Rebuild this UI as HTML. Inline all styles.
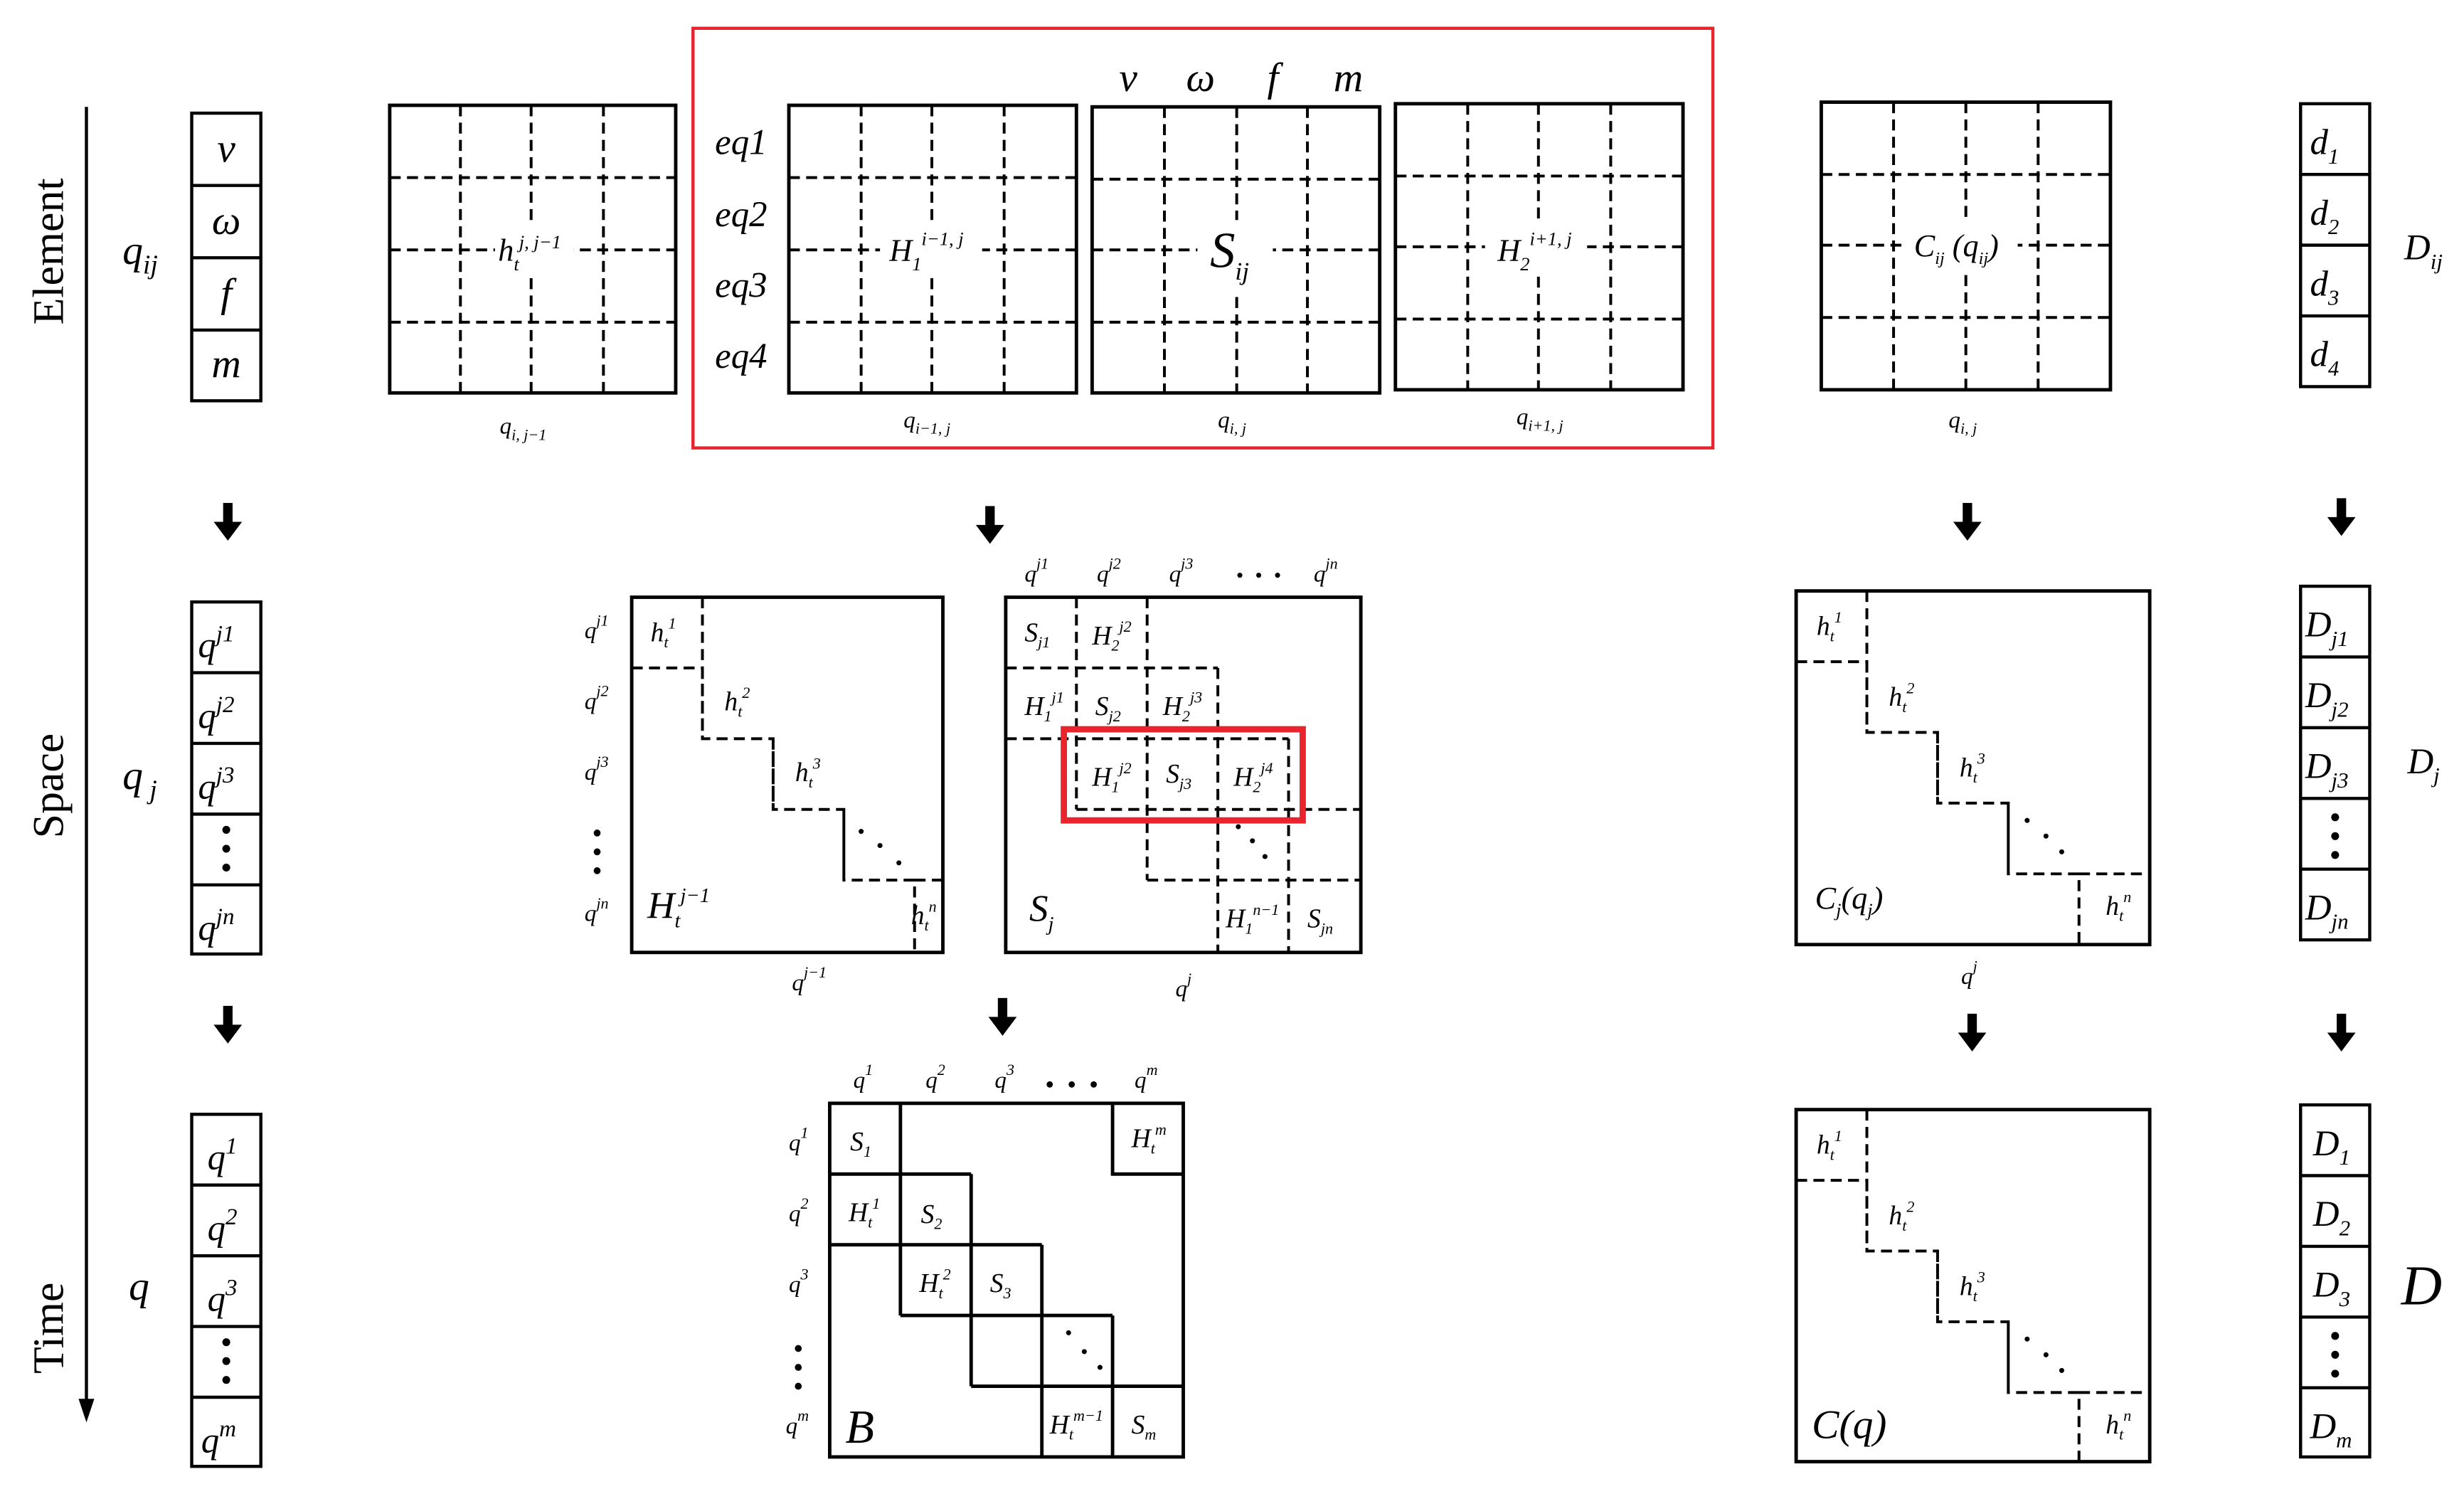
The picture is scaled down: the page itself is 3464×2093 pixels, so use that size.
<!DOCTYPE html>
<html><head><meta charset="utf-8"><style>
html,body{margin:0;padding:0;background:#fff;}
svg{display:block;}
text{font-family:"Liberation Serif",serif;font-style:italic;fill:#000;}
.up{font-style:normal;}
</style></head><body>
<svg width="3464" height="2093" viewBox="0 0 1568 947.4" preserveAspectRatio="none" xmlns="http://www.w3.org/2000/svg">
<defs>
<g id="arr"><rect x="-3" y="0" width="6" height="14" fill="#000"/><polygon points="-9,12 9,12 0,24" fill="#000"/></g>
</defs>
<g fill="none" stroke="#000">
<line x1="55" y1="68" x2="55" y2="895" stroke-width="2"/>
</g>
<polygon points="50,890 60,890 55,905" fill="#000"/>
<text class="up" transform="translate(40,160) rotate(-90)" font-size="28" text-anchor="middle">Element</text>
<text class="up" transform="translate(40,500) rotate(-90)" font-size="28" text-anchor="middle">Space</text>
<text class="up" transform="translate(40,845) rotate(-90)" font-size="28" text-anchor="middle">Time</text>

<use href="#arr" x="145" y="320"/><use href="#arr" x="145" y="640"/>
<use href="#arr" x="630" y="322"/><use href="#arr" x="1252" y="320"/><use href="#arr" x="1490" y="317"/>
<use href="#arr" x="638" y="635"/><use href="#arr" x="1255" y="645"/><use href="#arr" x="1490" y="645"/>

<g fill="none" stroke="#000" stroke-width="2">
<rect x="122" y="72" width="44" height="183"/>
<line x1="122" y1="118" x2="166" y2="118"/><line x1="122" y1="164" x2="166" y2="164"/><line x1="122" y1="210" x2="166" y2="210"/>
<rect x="122" y="383" width="44" height="224"/>
<line x1="122" y1="428" x2="166" y2="428"/><line x1="122" y1="473" x2="166" y2="473"/><line x1="122" y1="518" x2="166" y2="518"/><line x1="122" y1="563" x2="166" y2="563"/>
<rect x="122" y="709" width="44" height="224"/>
<line x1="122" y1="754" x2="166" y2="754"/><line x1="122" y1="799" x2="166" y2="799"/><line x1="122" y1="844" x2="166" y2="844"/><line x1="122" y1="889" x2="166" y2="889"/>
<rect x="1464" y="66" width="44" height="180"/>
<line x1="1464" y1="111" x2="1508" y2="111"/><line x1="1464" y1="156" x2="1508" y2="156"/><line x1="1464" y1="201" x2="1508" y2="201"/>
<rect x="1464" y="373" width="44" height="225"/>
<line x1="1464" y1="418" x2="1508" y2="418"/><line x1="1464" y1="463" x2="1508" y2="463"/><line x1="1464" y1="508" x2="1508" y2="508"/><line x1="1464" y1="553" x2="1508" y2="553"/>
<rect x="1464" y="703" width="44" height="224"/>
<line x1="1464" y1="748" x2="1508" y2="748"/><line x1="1464" y1="793" x2="1508" y2="793"/><line x1="1464" y1="838" x2="1508" y2="838"/><line x1="1464" y1="883" x2="1508" y2="883"/>
</g>

<g fill="none" stroke="#000" stroke-width="1.8" stroke-dasharray="7,4">
<path d="M293 67V250M338 67V250M384 67V250M248 113H430M248 159H430M248 205H430"/>
<path d="M548 67V250M593 67V250M639 67V250M502 113H685M502 159H685M502 205H685"/>
<path d="M741 68V250M787 68V250M832 68V250M695 114H878M695 159H878M695 205H878"/>
<path d="M934 66V248M979 66V248M1025 66V248M888 112H1071M888 157H1071M888 203H1071"/>
<path d="M1205 65V248M1251 65V248M1297 65V248M1159 111H1343M1159 156H1343M1159 202H1343"/>
</g>
<g fill="#fff" stroke="none">
<rect x="315" y="142" width="50" height="32"/><rect x="560" y="142" width="65" height="34"/><rect x="762" y="140" width="48" height="46"/>
<rect x="945" y="140" width="65" height="34"/><rect x="1212" y="140" width="72" height="34"/>
</g>
<g fill="none" stroke="#000" stroke-width="2.2">
<rect x="248" y="67" width="182" height="183"/>
<rect x="502" y="67" width="183" height="183"/>
<rect x="695" y="68" width="183" height="182"/>
<rect x="888" y="66" width="183" height="182"/>
<rect x="1159" y="65" width="184" height="183"/>
</g>
<rect x="441" y="18" width="649" height="267" fill="none" stroke="#e8242c" stroke-width="2"/>

<g fill="none" stroke="#000" stroke-width="1.8" stroke-dasharray="7,4">
<path d="M402 425H447V470H492V515H537V560H582V606M447 380V425M447 425V470M492 470V515M537 515V560M582 560H600"/>
<path d="M685 380V515M730 380V560M775 425V606M820 470V606M640 425H775M640 470H820M685 515H866M730 560H866"/>
<path d="M1143 421H1188V466H1233V511H1278V556H1323V601M1188 376V421M1188 421V466M1233 466V511M1278 511V556M1323 556H1368"/>
<path d="M1143 751H1188V796H1233V841H1278V886H1323V930M1188 706V751M1188 751V796M1233 796V841M1278 841V886M1323 886H1368"/>
</g>
<g fill="none" stroke="#000" stroke-width="2.2">
<rect x="402" y="380" width="198" height="226"/>
<rect x="640" y="380" width="226" height="226"/>
<rect x="1143" y="376" width="225" height="225"/>
<rect x="1143" y="706" width="225" height="224"/>
<rect x="528" y="702" width="225" height="225"/>
<path d="M573 702V837M528 747H618M618 747V882M528 792H663M663 792V927M573 837H708M708 837V927M618 882H753M708 702V747H753"/>
</g>
<rect x="677" y="464" width="152" height="58" fill="none" stroke="#e8242c" stroke-width="4"/>

<g fill="#000">
<circle cx="548" cy="529" r="1.6"/><circle cx="560" cy="538" r="1.6"/><circle cx="572" cy="549" r="1.6"/>
<circle cx="788" cy="526" r="1.6"/><circle cx="797" cy="535" r="1.6"/><circle cx="805" cy="545" r="1.6"/>
<circle cx="1290" cy="522" r="1.6"/><circle cx="1302" cy="532" r="1.6"/><circle cx="1312" cy="542" r="1.6"/>
<circle cx="1290" cy="852" r="1.6"/><circle cx="1302" cy="862" r="1.6"/><circle cx="1312" cy="872" r="1.6"/>
<circle cx="680" cy="848" r="1.6"/><circle cx="690" cy="860" r="1.6"/><circle cx="700" cy="870" r="1.6"/>
<circle cx="144" cy="528" r="2.5"/><circle cx="144" cy="540" r="2.5"/><circle cx="144" cy="552" r="2.5"/>
<circle cx="144" cy="854" r="2.5"/><circle cx="144" cy="866" r="2.5"/><circle cx="144" cy="878" r="2.5"/>
<circle cx="1486" cy="520" r="2.5"/><circle cx="1486" cy="532" r="2.5"/><circle cx="1486" cy="544" r="2.5"/>
<circle cx="1486" cy="850" r="2.5"/><circle cx="1486" cy="862" r="2.5"/><circle cx="1486" cy="874" r="2.5"/>
<circle cx="380" cy="530" r="2.2"/><circle cx="380" cy="542" r="2.2"/><circle cx="380" cy="554" r="2.2"/>
<circle cx="508" cy="858" r="2.2"/><circle cx="508" cy="870" r="2.2"/><circle cx="508" cy="882" r="2.2"/>
<circle cx="789" cy="366" r="1.6"/><circle cx="801" cy="366" r="1.6"/><circle cx="813" cy="366" r="1.6"/>
<circle cx="668" cy="690" r="2"/><circle cx="682" cy="690" r="2"/><circle cx="696" cy="690" r="2"/>
</g>

<g font-size="26">
<text x="144" y="103" text-anchor="middle">v</text>
<text x="144" y="149" text-anchor="middle">ω</text>
<text x="144" y="195" text-anchor="middle">f</text>
<text x="144" y="240" text-anchor="middle">m</text>
<text x="78" y="168">q<tspan font-size="17" dy="6">ij</tspan></text>
<text x="78" y="502">q<tspan font-size="17" dy="6"> j</tspan></text>
<text x="82" y="827">q</text>
<text x="718" y="58" text-anchor="middle">v</text><text x="764" y="58" text-anchor="middle">ω</text>
<text x="810" y="58" text-anchor="middle">f</text><text x="858" y="58" text-anchor="middle">m</text>
</g>
<g font-size="23">
<text x="126" y="418">q<tspan font-size="15" dy="-10">j</tspan><tspan font-size="15">1</tspan></text>
<text x="126" y="463">q<tspan font-size="15" dy="-10">j</tspan><tspan font-size="15">2</tspan></text>
<text x="126" y="508">q<tspan font-size="15" dy="-10">j</tspan><tspan font-size="15">3</tspan></text>
<text x="126" y="598">q<tspan font-size="15" dy="-10">jn</tspan></text>
<text x="132" y="744">q<tspan font-size="15" dy="-10">1</tspan></text>
<text x="132" y="789">q<tspan font-size="15" dy="-10">2</tspan></text>
<text x="132" y="834">q<tspan font-size="15" dy="-10">3</tspan></text>
<text x="128" y="924">q<tspan font-size="15" dy="-10">m</tspan></text>
<text x="1470" y="98">d<tspan font-size="14" dy="6">1</tspan></text>
<text x="1470" y="143">d<tspan font-size="14" dy="6">2</tspan></text>
<text x="1470" y="188">d<tspan font-size="14" dy="6">3</tspan></text>
<text x="1470" y="233">d<tspan font-size="14" dy="6">4</tspan></text>
<text x="1467" y="405">D<tspan font-size="14" dy="6">j1</tspan></text>
<text x="1467" y="450">D<tspan font-size="14" dy="6">j2</tspan></text>
<text x="1467" y="495">D<tspan font-size="14" dy="6">j3</tspan></text>
<text x="1467" y="585">D<tspan font-size="14" dy="6">jn</tspan></text>
<text x="1472" y="735">D<tspan font-size="14" dy="6">1</tspan></text>
<text x="1472" y="780">D<tspan font-size="14" dy="6">2</tspan></text>
<text x="1472" y="825">D<tspan font-size="14" dy="6">3</tspan></text>
<text x="1470" y="915">D<tspan font-size="14" dy="6">m</tspan></text>
<text x="1530" y="165">D<tspan font-size="14" dy="6">ij</tspan></text>
<text x="1532" y="492">D<tspan font-size="14" dy="6">j</tspan></text>
<text x="455" y="98">eq1</text><text x="455" y="144">eq2</text><text x="455" y="189">eq3</text><text x="455" y="234">eq4</text>
</g>
<text x="1528" y="830" font-size="36">D</text>
<text x="770" y="170" font-size="32">S<tspan font-size="16" dy="8">ij</tspan></text>
<g font-size="20">
<text x="317" y="166">h<tspan font-size="12" dy="6">t</tspan><tspan font-size="12" dy="-14">j, j−1</tspan></text>
<text x="566" y="166">H<tspan font-size="12" dy="6">1</tspan><tspan font-size="12" dy="-16">i−1, j</tspan></text>
<text x="953" y="166">H<tspan font-size="12" dy="6">2</tspan><tspan font-size="12" dy="-16">i+1, j</tspan></text>
<text x="1218" y="163">C<tspan font-size="11" dy="5">ij</tspan><tspan dy="-5"> (q</tspan><tspan font-size="11" dy="5">ij</tspan><tspan dy="-5">)</tspan></text>
<text x="412" y="584" font-size="24">H<tspan font-size="13" dy="6">t</tspan><tspan font-size="13" dy="-16">j−1</tspan></text>
<text x="655" y="586" font-size="24">S<tspan font-size="13" dy="6">j</tspan></text>
<text x="538" y="918" font-size="30">B</text>
<text x="1155" y="578">C<tspan font-size="12" dy="5">j</tspan><tspan dy="-5">(q</tspan><tspan font-size="12" dy="5">j</tspan><tspan dy="-5">)</tspan></text>
<text x="1153" y="915" font-size="26">C(q)</text>
</g>
<g font-size="17">
<text x="414" y="408">h<tspan font-size="10" dy="4">t</tspan><tspan font-size="10" dy="-12">1</tspan></text>
<text x="461" y="452">h<tspan font-size="10" dy="4">t</tspan><tspan font-size="10" dy="-12">2</tspan></text>
<text x="506" y="497">h<tspan font-size="10" dy="4">t</tspan><tspan font-size="10" dy="-12">3</tspan></text>
<text x="596" y="588" text-anchor="end">h<tspan font-size="10" dy="4">t</tspan><tspan font-size="10" dy="-12">n</tspan></text>
<text x="1156" y="404">h<tspan font-size="10" dy="4">t</tspan><tspan font-size="10" dy="-12">1</tspan></text>
<text x="1202" y="449">h<tspan font-size="10" dy="4">t</tspan><tspan font-size="10" dy="-12">2</tspan></text>
<text x="1247" y="494">h<tspan font-size="10" dy="4">t</tspan><tspan font-size="10" dy="-12">3</tspan></text>
<text x="1340" y="582">h<tspan font-size="10" dy="4">t</tspan><tspan font-size="10" dy="-12">n</tspan></text>
<text x="1156" y="734">h<tspan font-size="10" dy="4">t</tspan><tspan font-size="10" dy="-12">1</tspan></text>
<text x="1202" y="779">h<tspan font-size="10" dy="4">t</tspan><tspan font-size="10" dy="-12">2</tspan></text>
<text x="1247" y="824">h<tspan font-size="10" dy="4">t</tspan><tspan font-size="10" dy="-12">3</tspan></text>
<text x="1340" y="912">h<tspan font-size="10" dy="4">t</tspan><tspan font-size="10" dy="-12">n</tspan></text>
<text x="652" y="408">S<tspan font-size="10" dy="4">j1</tspan></text>
<text x="695" y="410">H<tspan font-size="10" dy="4">2</tspan><tspan font-size="10" dy="-12">j2</tspan></text>
<text x="652" y="455">H<tspan font-size="10" dy="4">1</tspan><tspan font-size="10" dy="-12">j1</tspan></text>
<text x="697" y="455">S<tspan font-size="10" dy="4">j2</tspan></text>
<text x="740" y="455">H<tspan font-size="10" dy="4">2</tspan><tspan font-size="10" dy="-12">j3</tspan></text>
<text x="695" y="500">H<tspan font-size="10" dy="4">1</tspan><tspan font-size="10" dy="-12">j2</tspan></text>
<text x="742" y="498">S<tspan font-size="10" dy="4">j3</tspan></text>
<text x="785" y="500">H<tspan font-size="10" dy="4">2</tspan><tspan font-size="10" dy="-12">j4</tspan></text>
<text x="780" y="590">H<tspan font-size="10" dy="4">1</tspan><tspan font-size="10" dy="-12">n−1</tspan></text>
<text x="832" y="590">S<tspan font-size="10" dy="4">jn</tspan></text>
<text x="541" y="732">S<tspan font-size="10" dy="4">1</tspan></text>
<text x="720" y="730">H<tspan font-size="10" dy="4">t</tspan><tspan font-size="10" dy="-12">m</tspan></text>
<text x="540" y="777">H<tspan font-size="10" dy="4">t</tspan><tspan font-size="10" dy="-12">1</tspan></text>
<text x="586" y="778">S<tspan font-size="10" dy="4">2</tspan></text>
<text x="585" y="822">H<tspan font-size="10" dy="4">t</tspan><tspan font-size="10" dy="-12">2</tspan></text>
<text x="630" y="822">S<tspan font-size="10" dy="4">3</tspan></text>
<text x="668" y="912">H<tspan font-size="10" dy="4">t</tspan><tspan font-size="10" dy="-12">m−1</tspan></text>
<text x="720" y="912">S<tspan font-size="10" dy="4">m</tspan></text>
</g>
<g font-size="15">
<text x="318" y="276">q<tspan font-size="10" dy="4">i, j−1</tspan></text>
<text x="575" y="272">q<tspan font-size="10" dy="4">i−1, j</tspan></text>
<text x="775" y="272">q<tspan font-size="10" dy="4">i, j</tspan></text>
<text x="965" y="270">q<tspan font-size="10" dy="4">i+1, j</tspan></text>
<text x="1240" y="272">q<tspan font-size="10" dy="4">i, j</tspan></text>
<text x="372" y="406">q<tspan font-size="10" dy="-8">j1</tspan></text>
<text x="372" y="451">q<tspan font-size="10" dy="-8">j2</tspan></text>
<text x="372" y="496">q<tspan font-size="10" dy="-8">j3</tspan></text>
<text x="372" y="586">q<tspan font-size="10" dy="-8">jn</tspan></text>
<text x="652" y="370">q<tspan font-size="10" dy="-8">j1</tspan></text>
<text x="698" y="370">q<tspan font-size="10" dy="-8">j2</tspan></text>
<text x="744" y="370">q<tspan font-size="10" dy="-8">j3</tspan></text>
<text x="836" y="370">q<tspan font-size="10" dy="-8">jn</tspan></text>
<text x="504" y="630">q<tspan font-size="10" dy="-8">j−1</tspan></text>
<text x="748" y="634">q<tspan font-size="10" dy="-8">j</tspan></text>
<text x="1248" y="626">q<tspan font-size="10" dy="-8">j</tspan></text>
<text x="543" y="692">q<tspan font-size="10" dy="-8">1</tspan></text>
<text x="589" y="692">q<tspan font-size="10" dy="-8">2</tspan></text>
<text x="633" y="692">q<tspan font-size="10" dy="-8">3</tspan></text>
<text x="722" y="692">q<tspan font-size="10" dy="-8">m</tspan></text>
<text x="502" y="732">q<tspan font-size="10" dy="-8">1</tspan></text>
<text x="502" y="777">q<tspan font-size="10" dy="-8">2</tspan></text>
<text x="502" y="822">q<tspan font-size="10" dy="-8">3</tspan></text>
<text x="500" y="912">q<tspan font-size="10" dy="-8">m</tspan></text>
</g>
</svg>
</body></html>
